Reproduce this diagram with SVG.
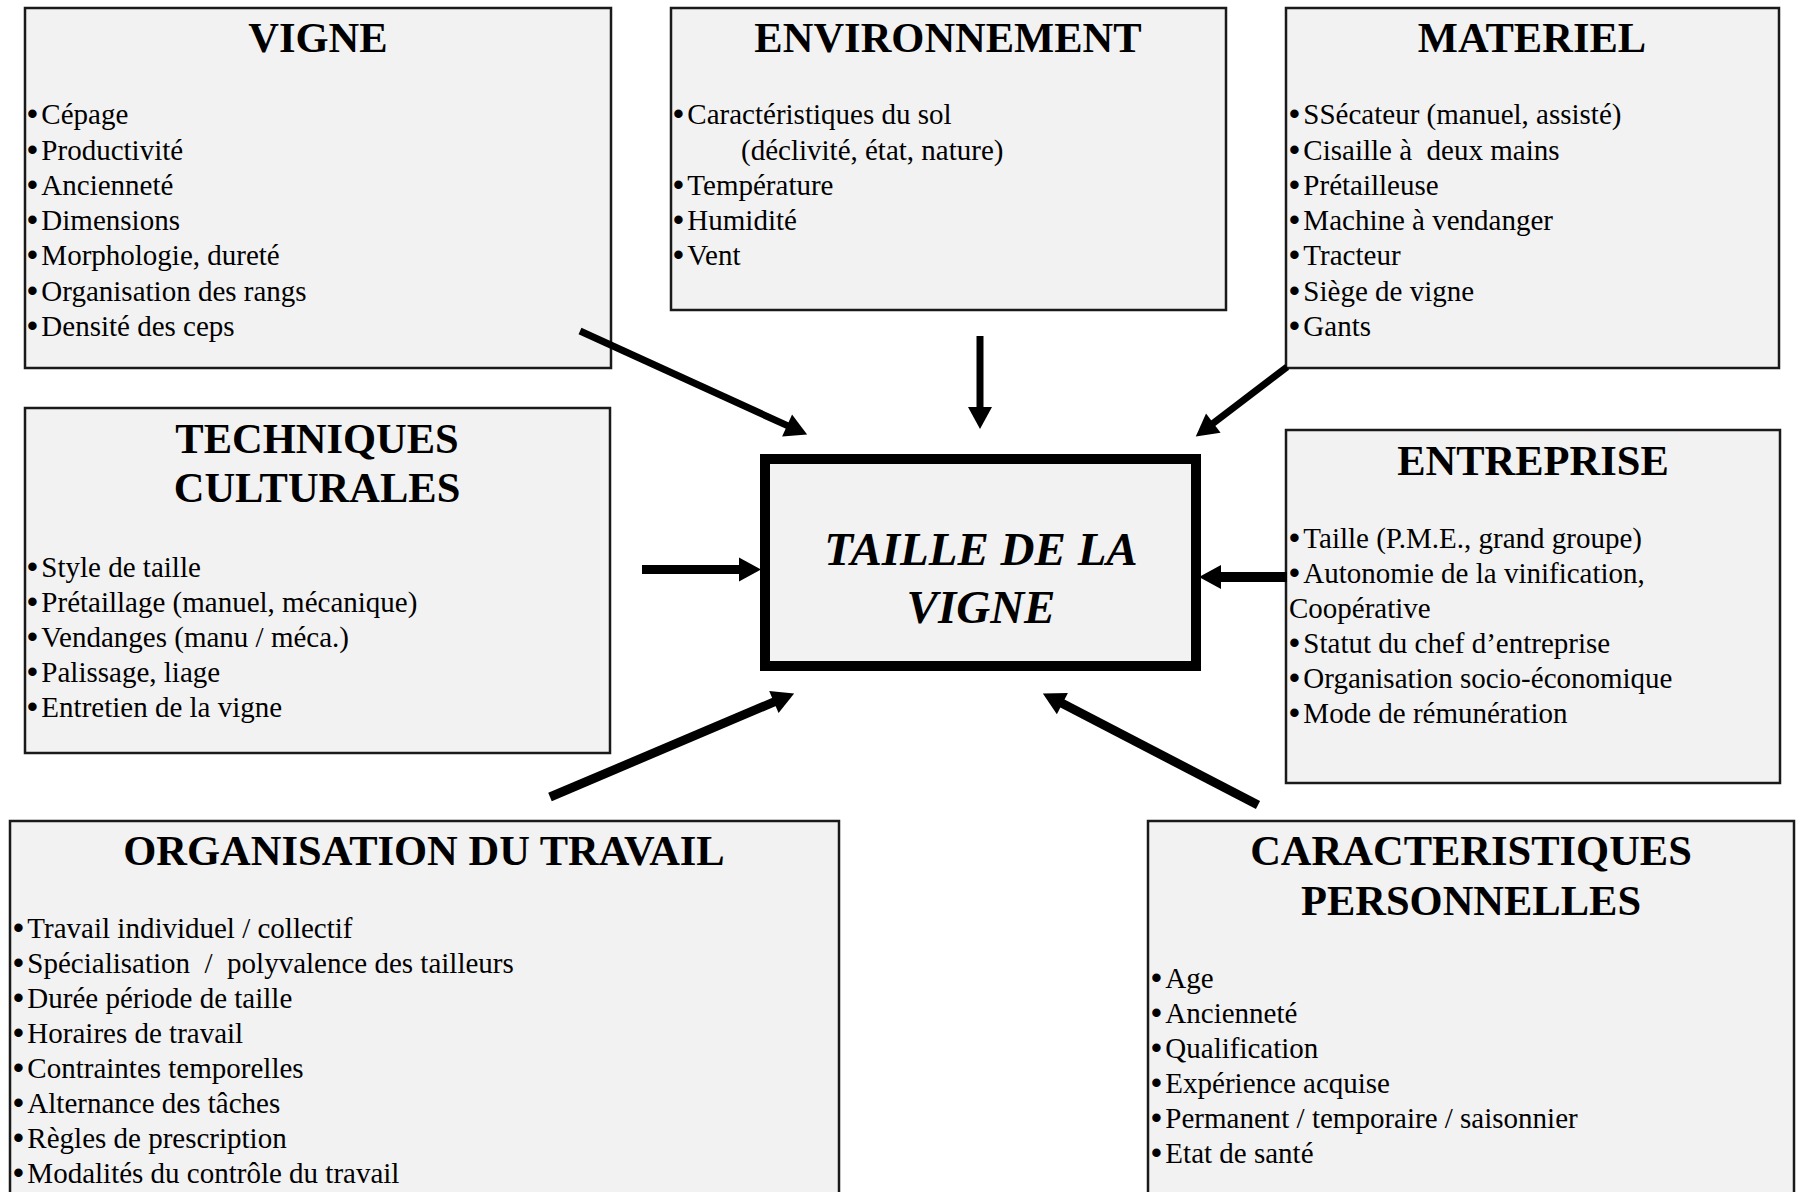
<svg xmlns="http://www.w3.org/2000/svg" width="1803" height="1192" viewBox="0 0 1803 1192">
<style>
.box{fill:#f2f2f2;stroke:#1a1a1a;stroke-width:2.5}
.center{fill:#f2f2f2;stroke:#000;stroke-width:10}
text{font-family:"Liberation Serif","Times New Roman",serif;fill:#000;white-space:pre}
.t{font-size:42.5px;font-weight:bold;text-anchor:middle}
.i{font-size:29px}
.b{font-family:"Liberation Sans",Arial,sans-serif;font-size:31px;letter-spacing:3.5px}
.c{font-size:47px;font-weight:bold;font-style:italic;text-anchor:middle}
.arr{stroke:#000;fill:none;marker-end:url(#ah)}
</style>
<defs>
<marker id="ah" markerUnits="userSpaceOnUse" markerWidth="24" markerHeight="26" refX="1" refY="12" orient="auto" overflow="visible">
<path d="M0,0 L22,12 L0,24 z" fill="#000"/>
</marker>
</defs>
<rect width="1803" height="1192" fill="#fff"/>

<g id="vigne">
<rect class="box" x="25" y="8" width="586" height="360"/>
<text class="t" x="318" y="52">VIGNE</text>
<text class="i" x="27" y="124"><tspan class="b">•</tspan>Cépage</text>
<text class="i" x="27" y="160"><tspan class="b">•</tspan>Productivité</text>
<text class="i" x="27" y="195"><tspan class="b">•</tspan>Ancienneté</text>
<text class="i" x="27" y="230"><tspan class="b">•</tspan>Dimensions</text>
<text class="i" x="27" y="265"><tspan class="b">•</tspan>Morphologie, dureté</text>
<text class="i" x="27" y="301"><tspan class="b">•</tspan>Organisation des rangs</text>
<text class="i" x="27" y="336"><tspan class="b">•</tspan>Densité des ceps</text>
</g>

<g id="environnement">
<rect class="box" x="671" y="8" width="555" height="302"/>
<text class="t" x="948" y="52">ENVIRONNEMENT</text>
<text class="i" x="673" y="124"><tspan class="b">•</tspan>Caractéristiques du sol</text>
<text class="i" x="741" y="160">(déclivité, état, nature)</text>
<text class="i" x="673" y="195"><tspan class="b">•</tspan>Température</text>
<text class="i" x="673" y="230"><tspan class="b">•</tspan>Humidité</text>
<text class="i" x="673" y="265"><tspan class="b">•</tspan>Vent</text>
</g>

<g id="materiel">
<rect class="box" x="1286" y="8" width="493" height="360"/>
<text class="t" x="1532" y="52">MATERIEL</text>
<text class="i" x="1289" y="124"><tspan class="b">•</tspan>SSécateur (manuel, assisté)</text>
<text class="i" x="1289" y="160"><tspan class="b">•</tspan>Cisaille à  deux mains</text>
<text class="i" x="1289" y="195"><tspan class="b">•</tspan>Prétailleuse</text>
<text class="i" x="1289" y="230"><tspan class="b">•</tspan>Machine à vendanger</text>
<text class="i" x="1289" y="265"><tspan class="b">•</tspan>Tracteur</text>
<text class="i" x="1289" y="301"><tspan class="b">•</tspan>Siège de vigne</text>
<text class="i" x="1289" y="336"><tspan class="b">•</tspan>Gants</text>
</g>

<g id="techniques">
<rect class="box" x="25" y="408" width="585" height="345"/>
<text class="t" x="317" y="453">TECHNIQUES</text>
<text class="t" x="317" y="502">CULTURALES</text>
<text class="i" x="27" y="577"><tspan class="b">•</tspan>Style de taille</text>
<text class="i" x="27" y="612"><tspan class="b">•</tspan>Prétaillage (manuel, mécanique)</text>
<text class="i" x="27" y="647"><tspan class="b">•</tspan>Vendanges (manu / méca.)</text>
<text class="i" x="27" y="682"><tspan class="b">•</tspan>Palissage, liage</text>
<text class="i" x="27" y="717"><tspan class="b">•</tspan>Entretien de la vigne</text>
</g>

<g id="taille">
<rect class="center" x="765" y="459" width="431" height="207"/>
<text class="c" x="981" y="565">TAILLE DE LA</text>
<text class="c" x="981" y="623">VIGNE</text>
</g>

<g id="entreprise">
<rect class="box" x="1286" y="430" width="494" height="353"/>
<text class="t" x="1533" y="475">ENTREPRISE</text>
<text class="i" x="1289" y="548"><tspan class="b">•</tspan>Taille (P.M.E., grand groupe)</text>
<text class="i" x="1289" y="583"><tspan class="b">•</tspan>Autonomie de la vinification,</text>
<text class="i" x="1289" y="618">Coopérative</text>
<text class="i" x="1289" y="653"><tspan class="b">•</tspan>Statut du chef d’entreprise</text>
<text class="i" x="1289" y="688"><tspan class="b">•</tspan>Organisation socio-économique</text>
<text class="i" x="1289" y="723"><tspan class="b">•</tspan>Mode de rémunération</text>
</g>

<g id="organisation">
<rect class="box" x="10" y="821" width="829" height="400"/>
<text class="t" x="424" y="865">ORGANISATION DU TRAVAIL</text>
<text class="i" x="13" y="938"><tspan class="b">•</tspan>Travail individuel / collectif</text>
<text class="i" x="13" y="973"><tspan class="b">•</tspan>Spécialisation  /  polyvalence des tailleurs</text>
<text class="i" x="13" y="1008"><tspan class="b">•</tspan>Durée période de taille</text>
<text class="i" x="13" y="1043"><tspan class="b">•</tspan>Horaires de travail</text>
<text class="i" x="13" y="1078"><tspan class="b">•</tspan>Contraintes temporelles</text>
<text class="i" x="13" y="1113"><tspan class="b">•</tspan>Alternance des tâches</text>
<text class="i" x="13" y="1148"><tspan class="b">•</tspan>Règles de prescription</text>
<text class="i" x="13" y="1183"><tspan class="b">•</tspan>Modalités du contrôle du travail</text>
</g>

<g id="caracteristiques">
<rect class="box" x="1148" y="821" width="646" height="400"/>
<text class="t" x="1471" y="865">CARACTERISTIQUES</text>
<text class="t" x="1471" y="915">PERSONNELLES</text>
<text class="i" x="1151" y="988"><tspan class="b">•</tspan>Age</text>
<text class="i" x="1151" y="1023"><tspan class="b">•</tspan>Ancienneté</text>
<text class="i" x="1151" y="1058"><tspan class="b">•</tspan>Qualification</text>
<text class="i" x="1151" y="1093"><tspan class="b">•</tspan>Expérience acquise</text>
<text class="i" x="1151" y="1128"><tspan class="b">•</tspan>Permanent / temporaire / saisonnier</text>
<text class="i" x="1151" y="1163"><tspan class="b">•</tspan>Etat de santé</text>
</g>

<g id="connectors">
<line class="arr" stroke-width="7" x1="580" y1="331" x2="788" y2="425.9"/>
<line class="arr" stroke-width="7" x1="980" y1="336" x2="980" y2="408"/>
<line class="arr" stroke-width="7" x1="1287" y1="367" x2="1212.5" y2="423.7"/>
<line class="arr" stroke-width="9" x1="642" y1="569.5" x2="740" y2="569.5"/>
<line class="arr" stroke-width="10" x1="1287" y1="577" x2="1220" y2="577"/>
<line class="arr" stroke-width="9" x1="550" y1="797" x2="774.8" y2="701.6"/>
<line class="arr" stroke-width="9" x1="1258" y1="805" x2="1061.5" y2="703.1"/>
</g>
</svg>
